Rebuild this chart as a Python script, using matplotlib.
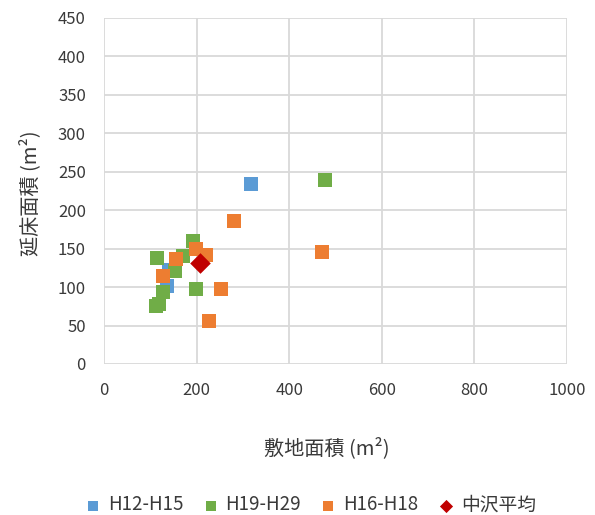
import matplotlib
matplotlib.use("Agg")
import matplotlib.pyplot as plt

plt.rcParams['font.family'] = ['Noto Sans CJK JP', 'DejaVu Sans']

# site area (m2) vs. floor area (m2) per period
h12_h15_site = [318, 140, 135]
h12_h15_floor = [234, 122, 101]

h19_h29_site = [478, 192, 171, 115, 153, 128, 113, 119, 199]
h19_h29_floor = [239, 160, 141, 138, 121, 94, 76, 78, 98]

h16_h18_site = [281, 471, 199, 220, 156, 128, 253, 227]
h16_h18_floor = [186, 146, 150, 142, 137, 114, 98, 56]

avg_site = [208]
avg_floor = [132]

x_ticks = [0, 200, 400, 600, 800, 1000]
y_ticks = [0, 50, 100, 150, 200, 250, 300, 350, 400, 450]

text_color = '#3a3a3a'

fig = plt.figure(figsize=(5.95, 5.15), dpi=100)
ax = fig.add_axes([104 / 595, 1 - 364 / 515, 463 / 595, 346 / 515])

ax.scatter(h12_h15_site, h12_h15_floor, marker='s', s=100, color='#5B9BD5',
           linewidths=0, label='H12-H15', zorder=3)
ax.scatter(h19_h29_site, h19_h29_floor, marker='s', s=100, color='#70AD47',
           linewidths=0, label='H19-H29', zorder=3)
ax.scatter(h16_h18_site, h16_h18_floor, marker='s', s=100, color='#ED7D31',
           linewidths=0, label='H16-H18', zorder=3)
ax.scatter(avg_site, avg_floor, marker='D', s=110, color='#C00000',
           linewidths=0, label='中沢平均', zorder=4)

ax.set_xlim(0, 1000)
ax.set_ylim(0, 450)
ax.set_xticks(x_ticks)
ax.set_yticks(y_ticks)
ax.grid(True, color='#d9d9d9', linewidth=1.3)
ax.set_axisbelow(True)
for s in ax.spines.values():
    s.set_visible(False)
ax.tick_params(length=0, labelsize=12, colors=text_color)
ax.tick_params(axis='x', pad=13)
ax.tick_params(axis='y', pad=13)

ax.set_xlabel('敷地面積 (m²)', fontsize=14.5, color=text_color)
ax.set_ylabel('延床面積 (m²)', fontsize=14.5, color=text_color)
ax.xaxis.set_label_coords(0.482, -0.211)
ax.yaxis.set_label_coords(-0.135, 0.494)

leg = fig.legend(loc='center', ncol=4, frameon=False, fontsize=13.5,
                 handlelength=0.8, handletextpad=0.4, columnspacing=1.05,
                 bbox_to_anchor=(0.522, 1 - 505 / 515), labelcolor=text_color)
for h in leg.legend_handles[:3]:
    h.set_sizes([60])
leg.legend_handles[3].set_sizes([45])

fig.savefig('out.png', dpi=100)
